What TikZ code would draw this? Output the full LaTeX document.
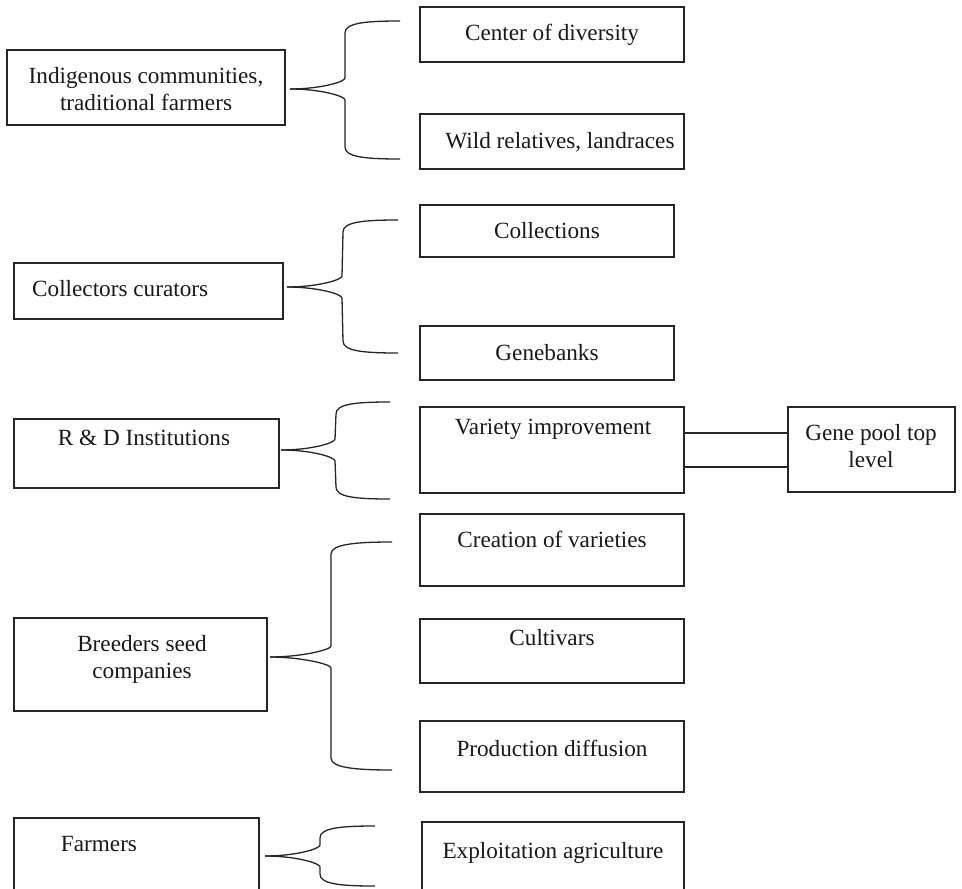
\documentclass[tikz,border=0pt]{standalone}
\usepackage{fontspec}
\setmainfont{Liberation Serif}
\usetikzlibrary{calc}
\newcommand\bx[5]{\node[box, minimum width={#4-#2}, minimum height={#5-#3}] (#1) at ({(#2+#4)/2},{(#3+#5)/2}) {};}
% #1 tip, #2 top end, #3 bottom end, #4 half width
\newcommand\dbrace[4]{%
\draw[brc] (#1) .. controls +(30,0) and +(0,4) .. ++(#4,-11) -- ([shift={(-#4,12)}]#2) .. controls +(0,-10) and +(-35,0) .. (#2);
\draw[brc] (#1) .. controls +(30,0) and +(0,-4) .. ++(#4,11) -- ([shift={(-#4,-12)}]#3) .. controls +(0,10) and +(-35,0) .. (#3);}
\begin{document}
\begin{tikzpicture}[x=1pt,y=-1pt,
 box/.style={draw=black!85, line width=1.3pt, inner sep=0pt, outer sep=0pt, rectangle},
 txt/.style={font=\fontsize{23.2}{27}\selectfont, align=center, inner sep=0pt, text=black!90},
 brc/.style={draw=black!85, line width=1.3pt},
 lnk/.style={draw=black!85, line width=1.3pt}]
\useasboundingbox (0,0) rectangle (962,889);
\fill[white] (0,0) rectangle (962,889);
\clip (0,0) rectangle (962,889);

% boxes
\bx{indig}{7}{50}{285}{125}
\bx{center}{420}{7}{684}{62}
\bx{wild}{420}{114}{684}{169}
\bx{collect}{14}{263}{283}{319}
\bx{collections}{420}{205}{674}{257}
\bx{genebanks}{420}{326}{674}{380}
\bx{rd}{14}{419}{279}{488}
\bx{var}{420}{407}{684}{493}
\bx{gp}{788}{407}{955}{492}
\bx{breed}{14}{618}{267}{711}
\bx{creation}{420}{514}{684}{586}
\bx{cultivars}{420}{619}{684}{683}
\bx{production}{420}{721}{684}{792}
\bx{farmers}{14}{818}{259}{895}
\bx{exploit}{422}{822}{684}{895}

% texts
\node[txt] (indigt) at (146,89) {Indigenous communities,\\traditional farmers};
\node[txt] (centert) at (552,35) {Center of diversity};
\node[txt] (wildt) at (560,142) {Wild relatives, landraces};
\node[txt, anchor=west] (collectt) at (32,289) {Collectors curators};
\node[txt] (collectionst) at (547,231) {Collections};
\node[txt] (genebankst) at (547,353) {Genebanks};
\node[txt] (rdt) at (144,438) {R \& D Institutions};
\node[txt] (vart) at (553,429) {Variety improvement};
\node[txt] (gpt) at (871,446) {Gene pool top\\level};
\node[txt] (breedt) at (142,659) {Breeders seed\\companies};
\node[txt] (creationt) at (552,539) {Creation of varieties};
\node[txt] (cultivarst) at (552,638) {Cultivars};
\node[txt] (productiont) at (552,748) {Production diffusion};
\node[txt] (farmerst) at (99,844) {Farmers};
\node[txt] (exploitt) at (553,853) {Exploitation agriculture};

% brace coordinates
\coordinate (b1tip) at (290,89);
\coordinate (b1top) at (400,21);
\coordinate (b1bot) at (400,159);
\coordinate (b2tip) at (287,287);
\coordinate (b2top) at (398,220);
\coordinate (b2bot) at (398,353);
\coordinate (b3tip) at (281,450);
\coordinate (b3top) at (390,402);
\coordinate (b3bot) at (390,499);
\coordinate (b4tip) at (270,657);
\coordinate (b4top) at (392,542);
\coordinate (b4bot) at (392,770);
\coordinate (b5tip) at (265,856);
\coordinate (b5top) at (375,826);
\coordinate (b5bot) at (375,886);

\dbrace{b1tip}{b1top}{b1bot}{55}
\dbrace{b2tip}{b2top}{b2bot}{55}
\dbrace{b3tip}{b3top}{b3bot}{54}
\dbrace{b4tip}{b4top}{b4bot}{61}
\dbrace{b5tip}{b5top}{b5bot}{55}

% links variety -> gene pool
\draw[lnk] ($(var.east)+(0,-17)$) -- ($(var.east -| gp.west)+(0,-17)$);
\draw[lnk] ($(var.east)+(0,17)$) -- ($(var.east -| gp.west)+(0,17)$);
\end{tikzpicture}
\end{document}
